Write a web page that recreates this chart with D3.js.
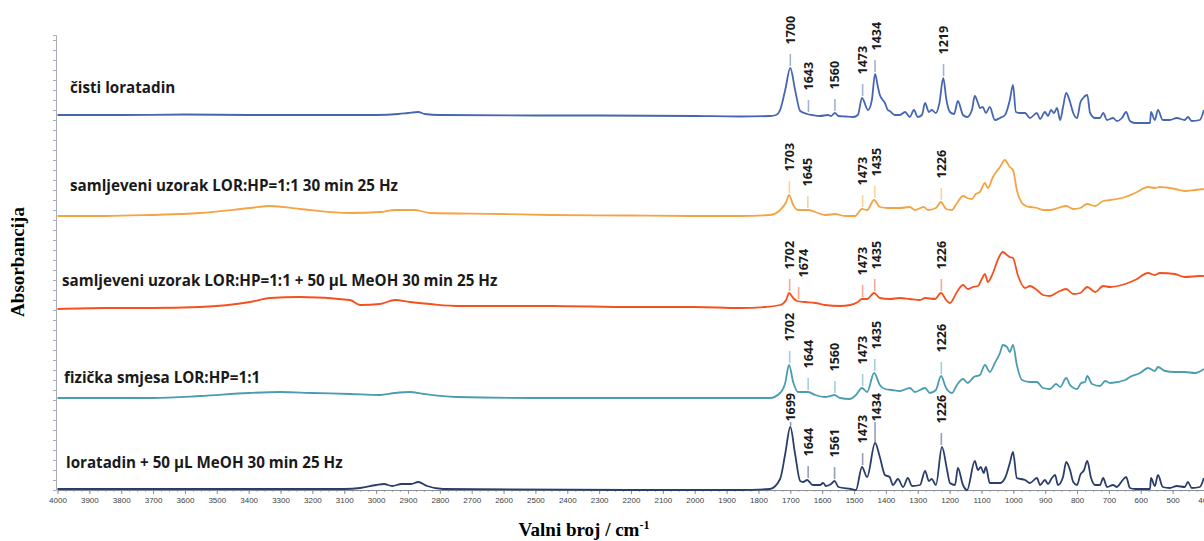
<!DOCTYPE html>
<html>
<head>
<meta charset="utf-8">
<script src="https://cdn.jsdelivr.net/npm/d3@7"></script>
<style>
  body { margin: 0; background: #fff; }
  svg { display: block; }
</style>
</head>
<body>
<div id="chart"></div>
<script>
// spectra names, top to bottom
const seriesNames = [
  "čisti loratadin",
  "samljeveni uzorak LOR:HP=1:1 30 min 25 Hz",
  "samljeveni uzorak LOR:HP=1:1 + 50 µL MeOH 30 min 25 Hz",
  "fizička smjesa LOR:HP=1:1",
  "loratadin + 50 µL MeOH 30 min 25 Hz"
];
const seriesColors = ["#4566b0", "#f5a444", "#f4511e", "#4a9db0", "#2b3d6b"];
// vertical stacking of the spectra (absorbance units)
const seriesOffsets = [3.75, 2.74, 1.82, 0.92, 0.01];

// [wavenumber cm-1, absorbance above offset]
const pureLoratadin = [
  [4000,0],[3800,0],[3600,0.005],[3400,0],[3240,0],[3000,0],[2930,0.01],[2900,0.02],[2868,0.03],
  [2847,0.01],[2800,0],[2500,-0.005],[2300,-0.005],[2000,-0.01],[1860,-0.015],[1764,-0.01],[1745,0],
  [1732,0.05],[1716,0.25],[1700,0.47],[1685,0.25],[1669,0.04],[1647,0.01],[1632,0],[1607,-0.01],
  [1582,0],[1572,-0.01],[1560,0.02],[1549,-0.01],[1527,-0.015],[1503,-0.02],[1488,0],[1475,0.17],
  [1456,0.05],[1444,0.15],[1434,0.41],[1425,0.28],[1419,0.2],[1403,0.12],[1394,0.05],[1388,0.04],
  [1372,0],[1356,0],[1340,0.03],[1325,-0.02],[1312,0.05],[1300,-0.02],[1287,0],[1277,0.12],
  [1265,0.03],[1256,0.05],[1243,0.02],[1232,0.12],[1220,0.37],[1210,0.15],[1199,0.03],[1186,0.01],
  [1174,0.14],[1158,0],[1145,-0.02],[1130,0.05],[1121,0.19],[1111,0.12],[1105,0.07],[1096,0.08],
  [1086,0.02],[1074,0.08],[1058,-0.05],[1042,-0.03],[1026,0],[1011,0.15],[1001,0.3],[992,0.03],
  [979,0.02],[963,0.02],[948,-0.03],[926,0.02],[916,-0.04],[901,0.03],[891,-0.01],[882,0.05],
  [872,0.02],[863,0.07],[853,-0.05],[844,0.08],[834,0.22],[822,0.13],[812,0.02],[800,-0.03],
  [790,0.12],[781,0.17],[768,0.2],[759,0.02],[743,-0.03],[728,-0.03],[718,0.02],[706,-0.05],
  [687,-0.03],[675,-0.06],[659,-0.03],[646,0.03],[634,-0.06],[618,-0.08],[571,-0.08],[568,0.03],
  [556,-0.05],[546,0.05],[531,-0.05],[509,-0.05],[487,-0.03],[462,-0.05],[452,-0.02],[440,-0.06],
  [415,-0.05],[402,0.05]
];
const milled = [
  [4000,0],[3850,0],[3710,0.01],[3553,0.03],[3396,0.08],[3333,0.1],[3239,0.07],[3082,0.03],
  [2988,0.04],[2941,0.06],[2878,0.06],[2831,0.03],[2611,0.02],[2454,0.01],[2200,0.005],[2000,0],
  [1858,0],[1764,0.01],[1732,0.06],[1713,0.14],[1704,0.21],[1691,0.11],[1676,0.06],[1644,0.06],
  [1622,0.04],[1591,0.01],[1560,0.02],[1528,0],[1497,0],[1475,0.07],[1459,0.06],[1437,0.16],
  [1419,0.09],[1394,0.08],[1356,0.08],[1325,0.09],[1309,0.06],[1281,0.09],[1268,0.06],[1243,0.08],
  [1227,0.14],[1211,0.07],[1193,0.06],[1177,0.13],[1158,0.2],[1145,0.18],[1130,0.17],[1118,0.22],
  [1105,0.24],[1089,0.33],[1080,0.28],[1064,0.39],[1042,0.49],[1027,0.56],[1011,0.49],[1001,0.46],
  [989,0.26],[973,0.13],[960,0.1],[948,0.09],[926,0.08],[907,0.06],[885,0.06],[860,0.08],
  [834,0.1],[812,0.07],[790,0.08],[768,0.12],[743,0.1],[718,0.15],[696,0.16],[649,0.19],
  [618,0.23],[577,0.29],[556,0.28],[540,0.29],[493,0.27],[462,0.25],[430,0.26],[402,0.27]
];
const milledMeOH = [
  [4000,-0.01],[3850,0],[3710,0],[3553,0.01],[3396,0.06],[3333,0.1],[3239,0.11],[3082,0.08],
  [3050,0.03],[2988,0.04],[2941,0.08],[2894,0.06],[2831,0.04],[2737,0.02],[2454,0.02],[2200,0.01],
  [2000,0.01],[1858,0],[1779,0.01],[1732,0.03],[1713,0.08],[1704,0.15],[1691,0.1],[1679,0.07],
  [1654,0.06],[1622,0.05],[1591,0.03],[1544,0.02],[1512,0.03],[1488,0.06],[1475,0.09],[1459,0.09],
  [1437,0.15],[1419,0.1],[1388,0.09],[1356,0.1],[1325,0.09],[1293,0.08],[1277,0.1],[1246,0.09],
  [1227,0.15],[1211,0.08],[1199,0.05],[1177,0.16],[1158,0.23],[1143,0.19],[1127,0.21],[1111,0.22],
  [1099,0.29],[1089,0.34],[1080,0.26],[1064,0.35],[1049,0.48],[1033,0.56],[1020,0.53],[1011,0.51],
  [1001,0.5],[986,0.33],[963,0.2],[948,0.22],[926,0.18],[907,0.13],[885,0.12],[860,0.16],
  [834,0.19],[812,0.14],[790,0.15],[768,0.21],[743,0.16],[718,0.22],[696,0.21],[649,0.24],
  [618,0.28],[577,0.35],[556,0.33],[540,0.35],[493,0.34],[462,0.31],[415,0.32],[402,0.32]
];
const physicalMix = [
  [4000,0],[3700,0],[3550,0.02],[3400,0.05],[3300,0.06],[3200,0.05],[3082,0.04],[2988,0.03],
  [2941,0.05],[2894,0.06],[2850,0.04],[2750,0.01],[2450,0],[2000,0],[1858,0],[1764,0],[1732,0.05],
  [1716,0.15],[1704,0.33],[1691,0.16],[1676,0.06],[1644,0.06],[1622,0.03],[1591,0.01],[1575,0.02],
  [1562,0.03],[1544,0],[1512,-0.01],[1494,0.03],[1475,0.1],[1459,0.06],[1437,0.25],[1419,0.13],
  [1403,0.09],[1381,0.08],[1356,0.07],[1325,0.1],[1309,0.06],[1277,0.1],[1262,0.05],[1243,0.08],
  [1227,0.22],[1211,0.1],[1193,0.05],[1177,0.13],[1158,0.19],[1143,0.15],[1124,0.21],[1105,0.23],
  [1089,0.33],[1074,0.26],[1058,0.35],[1042,0.45],[1033,0.53],[1020,0.51],[1011,0.46],[1001,0.53],
  [989,0.33],[973,0.18],[948,0.16],[926,0.16],[907,0.1],[885,0.09],[866,0.14],[853,0.11],
  [834,0.2],[822,0.13],[800,0.09],[787,0.15],[775,0.16],[768,0.22],[753,0.14],[728,0.12],
  [712,0.17],[696,0.15],[649,0.18],[634,0.21],[602,0.25],[577,0.3],[556,0.27],[546,0.31],
  [524,0.27],[493,0.26],[462,0.26],[430,0.25],[402,0.29]
];
const loratadinMeOH = [
  [4000,0],[3100,0],[3050,0.01],[3000,0.04],[2975,0.05],[2950,0.03],[2920,0.05],[2890,0.05],
  [2868,0.07],[2840,0.03],[2790,0],[2200,-0.01],[1860,-0.01],[1764,0],[1732,0.1],[1716,0.35],
  [1700,0.62],[1685,0.35],[1669,0.08],[1660,0.07],[1647,0.09],[1630,0.04],[1607,0.04],[1597,0.06],
  [1588,0.03],[1572,0.05],[1561,0.08],[1549,0.02],[1510,0],[1494,-0.01],[1475,0.22],[1459,0.12],
  [1434,0.46],[1419,0.32],[1403,0.14],[1388,0.12],[1378,0.04],[1362,0.1],[1346,0.02],[1331,0.11],
  [1318,0.03],[1293,0.04],[1277,0.18],[1265,0.08],[1256,0.1],[1243,0.04],[1224,0.42],[1208,0.19],
  [1199,0.06],[1183,0.04],[1174,0.21],[1158,0.04],[1145,-0.01],[1121,0.28],[1111,0.19],[1102,0.22],
  [1093,0.16],[1086,0.22],[1074,0.06],[1058,0.06],[1042,0.06],[1026,0.11],[1011,0.26],[1001,0.37],
  [989,0.11],[963,0.09],[948,0.06],[926,0.11],[916,0.04],[901,0.09],[891,0.05],[879,0.11],
  [869,0.14],[860,0.04],[844,0.12],[834,0.27],[822,0.19],[812,0.07],[800,0.04],[790,0.14],
  [778,0.19],[768,0.28],[756,0.11],[743,0.04],[728,0.04],[718,0.11],[706,0.02],[687,0.04],
  [675,0.02],[659,0.08],[646,0.12],[634,0.01],[618,0],[571,0],[568,0.11],[556,0.03],[546,0.14],
  [531,0.02],[509,0.01],[487,0.03],[462,0.02],[452,0.07],[440,0.01],[415,0.02],[402,0.11]
];
const spectra = [pureLoratadin, milled, milledMeOH, physicalMix, loratadinMeOH];

// labelled band positions for each spectrum
const peakLabels = [
  [1700, 1643, 1560, 1473, 1434, 1219],
  [1703, 1645, 1473, 1435, 1226],
  [1702, 1674, 1473, 1435, 1226],
  [1702, 1644, 1560, 1473, 1435, 1226],
  [1699, 1644, 1561, 1473, 1434, 1226]
];

const xTicks = d3.range(4000, 399, -100);
const xMinorTicks = d3.range(4000, 399, -25);

// layout only
const width = 1204, height = 541;
const labelLayout = [
  { x: 70, dy: -22 }, { x: 70, dy: -25 }, { x: 62, dy: -22 }, { x: 64, dy: -15 }, { x: 66, dy: -21 }
];

const x = d3.scaleLinear().domain([4000, 400]).range([57.5, 1204.5]);
const y = d3.scaleLinear().domain([0, 4.55]).range([490, 35]);

const svg = d3.select("#chart").append("svg")
  .attr("width", width).attr("height", height);

// y axis (no values, just small ticks)
const yAxis = svg.append("g")
  .attr("transform", "translate(56,0)")
  .call(d3.axisLeft(y).tickValues(d3.range(0, 4.56, 0.1)).tickSize(3).tickFormat(""));
yAxis.select(".domain").attr("stroke", "#a9adb5");
yAxis.selectAll(".tick line").attr("stroke", "#a9adb5");

// x axis
const xAxisG = svg.append("g").attr("transform", "translate(0,490)");
xAxisG.append("g")
  .call(d3.axisBottom(x).tickValues(xMinorTicks).tickSize(2).tickFormat(""))
  .call(g => g.select(".domain").remove())
  .selectAll(".tick line").attr("stroke", "#b5b5b5");
const xAxis = xAxisG.append("g")
  .call(d3.axisBottom(x).tickValues(xTicks).tickSize(4).tickSizeOuter(0).tickPadding(3)
    .tickFormat(d3.format("d")));
xAxis.select(".domain").attr("stroke", "#8a8f99");
xAxis.selectAll(".tick line").attr("stroke", "#8a8f99");
xAxis.selectAll(".tick text")
  .attr("fill", "#404040")
  .style("font-family", "'Liberation Sans', Arial, sans-serif")
  .style("font-size", "8px");

const line = d3.line()
  .x(d => x(d[0]))
  .y(d => y(d[1]))
  .curve(d3.curveMonotoneX);

const valueAt = (data, wn) => {
  const sorted = data.slice().sort((a, b) => b[0] - a[0]);
  let v = -Infinity;
  for (let i = 0; i < sorted.length - 1; i++) {
    const a = sorted[i], b = sorted[i + 1];
    if (wn <= a[0] && wn >= b[0]) {
      const t = (a[0] - wn) / (a[0] - b[0]);
      v = a[1] + t * (b[1] - a[1]);
    }
  }
  sorted.forEach(p => { if (Math.abs(p[0] - wn) <= 6) v = Math.max(v, p[1]); });
  return v;
};

spectra.forEach((data, i) => {
  const pts = data.slice().sort((a, b) => b[0] - a[0])
    .map(d => [d[0], d[1] + seriesOffsets[i]]);
  svg.append("path")
    .attr("d", line(pts))
    .attr("fill", "none")
    .attr("stroke", seriesColors[i])
    .attr("stroke-width", 1.8)
    .attr("stroke-linejoin", "round");

  const baseY = y(seriesOffsets[i]);
  svg.append("text")
    .attr("x", labelLayout[i].x)
    .attr("y", baseY + labelLayout[i].dy)
    .attr("fill", "#1a1a1a")
    .style("font-family", "'Open Sans', 'Noto Sans', sans-serif")
    .style("font-weight", 700)
    .style("font-size", "15.2px")
    .text(seriesNames[i]);

  // band labels
  const ceiling = i > 0 ? y(seriesOffsets[i - 1]) - 5 : 0;
  let prevTextX = -Infinity;
  peakLabels[i].forEach(wn => {
    const px = x(wn);
    const peakY = y(valueAt(data, wn) + seriesOffsets[i]);
    const textX = Math.max(px, prevTextX + 14);
    prevTextX = textX;
    const t = svg.append("text")
      .attr("fill", "#1a1a1a")
      .attr("text-anchor", "start")
      .attr("dy", "0.36em")
      .style("font-family", "'Open Sans', 'Noto Sans', sans-serif")
      .style("font-weight", 700)
      .style("font-size", "12.5px")
      .text(wn);
    const len = t.node().getComputedTextLength();
    let markBottom = peakY - 1.5;
    let markTop = markBottom - 12;
    let textBottom = markTop - 10;
    if (textBottom - len < ceiling) {
      textBottom = ceiling + len;
      markTop = Math.min(markBottom - 2, textBottom + 1);
    }
    t.attr("transform", `translate(${textX},${textBottom}) rotate(-90)`);
    svg.append("line")
      .attr("x1", px).attr("x2", px)
      .attr("y1", markTop).attr("y2", markBottom)
      .attr("stroke", seriesColors[i])
      .attr("stroke-width", 1.6)
      .attr("stroke-dasharray", "1,1");
  });
});

// axis titles
svg.append("text")
  .attr("transform", "translate(24,262) rotate(-90)")
  .attr("text-anchor", "middle")
  .style("font-family", "'Liberation Serif', 'Times New Roman', serif")
  .style("font-weight", 700)
  .style("font-size", "19px")
  .attr("fill", "#000")
  .text("Absorbancija");

const xt = svg.append("text")
  .attr("x", 584).attr("y", 536)
  .attr("text-anchor", "middle")
  .style("font-family", "'Liberation Serif', 'Times New Roman', serif")
  .style("font-weight", 700)
  .style("font-size", "19px")
  .attr("fill", "#000");
xt.append("tspan").text("Valni broj / cm");
xt.append("tspan").attr("dy", -7).style("font-size", "12px").text("-1");
</script>
</body>
</html>
